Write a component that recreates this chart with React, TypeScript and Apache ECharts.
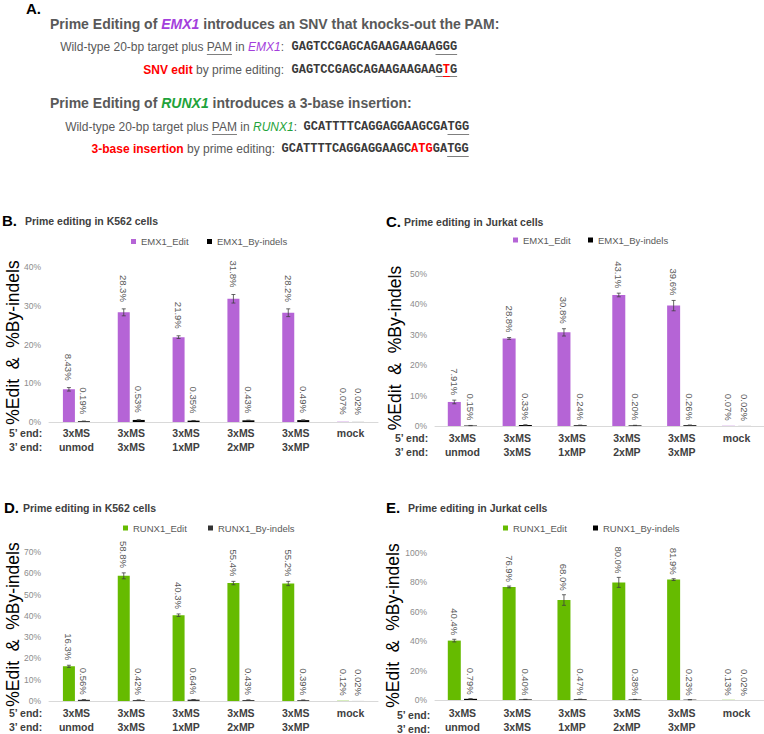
import React, { useEffect, useRef } from 'react';
import * as echarts from 'echarts';

// ---------- data ----------
const fivePrime = ['3xMS', '3xMS', '3xMS', '3xMS', '3xMS', 'mock'];
const threePrime = ['unmod', '3xMS', '1xMP', '2xMP', '3xMP', ''];

const emx1K562Edit = [8.43, 28.3, 21.9, 31.8, 28.2, 0.07];
const emx1K562EditErr = [0.45, 0.9, 0.35, 1.1, 1.0, 0];
const emx1K562Indel = [0.19, 0.53, 0.35, 0.43, 0.49, 0.02];
const emx1K562IndelErr = [0.04, 0.05, 0.04, 0.05, 0.06, 0];

const emx1JurkatEdit = [7.91, 28.8, 30.8, 43.1, 39.6, 0.07];
const emx1JurkatEditErr = [0.6, 0.3, 1.2, 0.6, 1.7, 0];
const emx1JurkatIndel = [0.15, 0.33, 0.24, 0.2, 0.26, 0.02];
const emx1JurkatIndelErr = [0.03, 0.05, 0.04, 0.03, 0.04, 0];

const runx1K562Edit = [16.3, 58.8, 40.3, 55.4, 55.2, 0.12];
const runx1K562EditErr = [0.5, 1.4, 0.6, 0.8, 1.0, 0];
const runx1K562Indel = [0.56, 0.42, 0.64, 0.43, 0.39, 0.02];
const runx1K562IndelErr = [0.05, 0.04, 0.05, 0.04, 0.04, 0];

const runx1JurkatEdit = [40.4, 76.9, 68.0, 80.0, 81.9, 0.13];
const runx1JurkatEditErr = [0.9, 0.6, 3.6, 3.4, 0.6, 0];
const runx1JurkatIndel = [0.79, 0.4, 0.47, 0.38, 0.23, 0.02];
const runx1JurkatIndelErr = [0.06, 0.04, 0.05, 0.04, 0.03, 0];

const yMaxB = 40, yStepB = 10;
const yMaxC = 50, yStepC = 10;
const yMaxD = 70, yStepD = 10;
const yMaxE = 100, yStepE = 20;

// ---------- styles ----------
const PURPLE = '#b564d6';
const GREEN = '#66bb00';
const TITLE_PURPLE = '#a43fdc';
const TITLE_GREEN = '#1fa33b';
const RED = '#ff0000';
const GRAY = '#595959';
const SEQ = '#3a3a3a';
const SANS = '"Liberation Sans", Arial, sans-serif';
const MONO = '"Liberation Mono", "Courier New", monospace';

const fmt = (v: number) => (v < 10 ? v.toFixed(2) : v.toFixed(1)) + '%';

interface Panel {
  letter: string;
  title: string;
  editName: string;
  indelName: string;
  edit: number[];
  editErr: number[];
  indel: number[];
  indelErr: number[];
  yMax: number;
  yStep: number;
  editColor: string;
  indelColor: string;
  // layout
  left: number;
  width: number;
  top: number;
  height: number;
  barW: number;
  letterX: number;
  titleX: number;
  titleY: number;
  legendY: number;
  legendX1: number;
  legendX2: number;
  yTitleX: number;
  rowX: number;
  labelMargin: number;
  labelGap: number;
}

const panels: Panel[] = [
  {
    letter: 'B.', title: 'Prime editing in K562 cells',
    editName: 'EMX1_Edit', indelName: 'EMX1_By-indels',
    edit: emx1K562Edit, editErr: emx1K562EditErr, indel: emx1K562Indel, indelErr: emx1K562IndelErr,
    yMax: yMaxB, yStep: yStepB, editColor: PURPLE, indelColor: '#000000',
    left: 49, width: 329, top: 267, height: 155, barW: 12,
    letterX: 2, titleX: 25, titleY: 220, legendY: 241.5, legendX1: 131, legendX2: 207,
    yTitleX: 13, rowX: 9, labelMargin: 4, labelGap: 7,
  },
  {
    letter: 'C.', title: 'Prime editing in Jurkat cells',
    editName: 'EMX1_Edit', indelName: 'EMX1_By-indels',
    edit: emx1JurkatEdit, editErr: emx1JurkatEditErr, indel: emx1JurkatIndel, indelErr: emx1JurkatIndelErr,
    yMax: yMaxC, yStep: yStepC, editColor: PURPLE, indelColor: '#000000',
    left: 435, width: 329, top: 274, height: 152, barW: 13,
    letterX: 386, titleX: 404, titleY: 221, legendY: 240, legendX1: 513, legendX2: 588,
    yTitleX: 395, rowX: 395, labelMargin: 5, labelGap: 5,
  },
  {
    letter: 'D.', title: 'Prime editing in K562 cells',
    editName: 'RUNX1_Edit', indelName: 'RUNX1_By-indels',
    edit: runx1K562Edit, editErr: runx1K562EditErr, indel: runx1K562Indel, indelErr: runx1K562IndelErr,
    yMax: yMaxD, yStep: yStepD, editColor: GREEN, indelColor: '#333333',
    left: 49, width: 329, top: 552, height: 149, barW: 12,
    letterX: 4, titleX: 23, titleY: 507, legendY: 528, legendX1: 123, legendX2: 208,
    yTitleX: 13, rowX: 9, labelMargin: 5, labelGap: 5,
  },
  {
    letter: 'E.', title: 'Prime editing in Jurkat cells',
    editName: 'RUNX1_Edit', indelName: 'RUNX1_By-indels',
    edit: runx1JurkatEdit, editErr: runx1JurkatEditErr, indel: runx1JurkatIndel, indelErr: runx1JurkatIndelErr,
    yMax: yMaxE, yStep: yStepE, editColor: GREEN, indelColor: '#000000',
    left: 435, width: 329, top: 553, height: 149, barW: 13,
    letterX: 386, titleX: 408, titleY: 507, legendY: 528, legendX1: 503, legendX2: 593,
    yTitleX: 393, rowX: 397, labelMargin: 6, labelGap: 4,
  },
];

// ---------- panel A text ----------
interface Seg { t: string; b?: boolean; i?: boolean; c?: string; u?: boolean; mono?: boolean; }
interface Line { y: number; size: number; segs: Seg[]; x?: number; endX?: number; seq?: Seg[]; seqX?: number; }

const seqFont = 12;
const aLines: Line[] = [
  {
    y: 24, size: 14, x: 50,
    segs: [
      { t: 'Prime Editing of ', b: true },
      { t: 'EMX1', b: true, i: true, c: TITLE_PURPLE },
      { t: ' introduces an SNV that knocks-out the PAM:', b: true },
    ],
  },
  {
    y: 47, size: 12, endX: 284,
    segs: [
      { t: 'Wild-type 20-bp target plus ' }, { t: 'PAM', u: true }, { t: ' in ' },
      { t: 'EMX1', i: true, c: TITLE_PURPLE }, { t: ':' },
    ],
    seqX: 291.5,
    seq: [{ t: 'GAGTCCGAGCAGAAGAAGAA' }, { t: 'GGG', u: true }],
  },
  {
    y: 69.5, size: 12, endX: 284,
    segs: [{ t: 'SNV edit', b: true, c: RED }, { t: ' by prime editing:' }],
    seqX: 291.5,
    seq: [{ t: 'GAGTCCGAGCAGAAGAAGAA' }, { t: 'G', u: true }, { t: 'T', u: true, c: RED }, { t: 'G', u: true }],
  },
  {
    y: 103, size: 14, x: 50,
    segs: [
      { t: 'Prime Editing of ', b: true },
      { t: 'RUNX1', b: true, i: true, c: TITLE_GREEN },
      { t: ' introduces a 3-base insertion:', b: true },
    ],
  },
  {
    y: 127, size: 12, endX: 297,
    segs: [
      { t: 'Wild-type 20-bp target plus ' }, { t: 'PAM', u: true }, { t: ' in ' },
      { t: 'RUNX1', i: true, c: TITLE_GREEN }, { t: ':' },
    ],
    seqX: 303.5,
    seq: [{ t: 'GCATTTTCAGGAGGAAGCGA' }, { t: 'TGG', u: true }],
  },
  {
    y: 149, size: 12, endX: 275,
    segs: [{ t: '3-base insertion', b: true, c: RED }, { t: ' by prime editing:' }],
    seqX: 281.5,
    seq: [{ t: 'GCATTTTCAGGAGGAAGC' }, { t: 'ATG', c: RED }, { t: 'GA' }, { t: 'TGG', u: true }],
  },
];

function fontOf(s: Seg, size: number) {
  return `${s.i ? 'italic ' : ''}${s.b ? 'bold ' : ''}${size}px ${s.mono ? MONO : SANS}`;
}

function buildPanelA(): any[] {
  const ctx = document.createElement('canvas').getContext('2d') as CanvasRenderingContext2D;
  const out: any[] = [];
  const place = (segs: Seg[], size: number, startX: number, y: number, defColor: string) => {
    let x = startX;
    segs.forEach((s) => {
      const font = fontOf(s, size);
      ctx.font = font;
      const w = ctx.measureText(s.t).width;
      const fill = s.c || defColor;
      out.push({
        type: 'text', x, y,
        style: { text: s.t, font, fill, align: 'left', verticalAlign: 'middle', textAlign: 'left', textVerticalAlign: 'middle' },
      });
      if (s.u) {
        const uy = Math.round(y + size * 0.55) + 0.5;
        out.push({ type: 'line', shape: { x1: x, y1: uy, x2: x + w, y2: uy }, style: { stroke: s.c || '#7f7f7f', lineWidth: 1 } });
      }
      x += w;
    });
  };
  const widthOf = (segs: Seg[], size: number) =>
    segs.reduce((acc, s) => { ctx.font = fontOf(s, size); return acc + ctx.measureText(s.t).width; }, 0);

  out.push({
    type: 'text', x: 26, y: 8,
    style: { text: 'A.', font: `bold 15px ${SANS}`, fill: '#000', align: 'left', verticalAlign: 'middle', textAlign: 'left', textVerticalAlign: 'middle' },
  });
  aLines.forEach((ln) => {
    const startX = ln.x !== undefined ? ln.x : (ln.endX as number) - widthOf(ln.segs, ln.size);
    place(ln.segs, ln.size, startX, ln.y, GRAY);
    if (ln.seq) {
      place(ln.seq.map((s) => ({ ...s, b: true, mono: true })), seqFont, ln.seqX as number, ln.y, SEQ);
    }
  });
  return out;
}

function buildOption() {
  const grid: any[] = [];
  const xAxis: any[] = [];
  const yAxis: any[] = [];
  const series: any[] = [];
  const legend: any[] = [];
  const graphic: any[] = buildPanelA();
  const categories = fivePrime.map((f, i) => `${f}\n${threePrime[i]}`);

  panels.forEach((p, k) => {
    grid.push({ left: p.left, top: p.top, width: p.width, height: p.height, containLabel: false });
    xAxis.push({
      type: 'category', gridIndex: k, data: categories,
      axisLine: { lineStyle: { color: '#d9d9d9', width: 1 } },
      axisTick: { show: false },
      axisLabel: {
        interval: 0, fontSize: 10.5, fontWeight: 'bold', color: '#404040', fontFamily: SANS,
        lineHeight: 14, margin: p.labelMargin,
      },
    });
    yAxis.push({
      type: 'value', gridIndex: k, min: 0, max: p.yMax, interval: p.yStep,
      axisLine: { show: false }, axisTick: { show: false }, splitLine: { show: false },
      axisLabel: { formatter: '{value}%', fontSize: 8.5, color: '#8c8c8c', fontFamily: SANS, margin: 8 },
    });
    const pxPer = p.height / p.yMax;
    const gapPx = p.barW * 0.25;
    const off = (p.barW + gapPx) / 2;
    const labelCfg = {
      show: true, position: 'top', rotate: -90, align: 'right', verticalAlign: 'middle',
      fontSize: 9.5, color: '#595959', fontFamily: SANS,
      formatter: (q: any) => fmt(q.value),
    };
    series.push({
      type: 'bar', name: p.editName, xAxisIndex: k, yAxisIndex: k,
      barWidth: p.barW, barGap: '25%',
      itemStyle: { color: p.editColor },
      label: labelCfg,
      data: p.edit.map((v, i) => ({ value: v, label: { distance: p.labelGap + p.editErr[i] * pxPer } })),
    });
    series.push({
      type: 'bar', name: p.indelName, xAxisIndex: k, yAxisIndex: k,
      barWidth: p.barW, barGap: '25%',
      itemStyle: { color: p.indelColor },
      label: labelCfg,
      data: p.indel.map((v, i) => ({ value: v, label: { distance: p.labelGap + p.indelErr[i] * pxPer } })),
    });
    const errData: number[][] = [];
    p.edit.forEach((v, i) => { if (p.editErr[i] > 0) errData.push([i, v - p.editErr[i], v + p.editErr[i], -1]); });
    p.indel.forEach((v, i) => { if (p.indelErr[i] > 0) errData.push([i, Math.max(0, v - p.indelErr[i]), v + p.indelErr[i], 1]); });
    series.push({
      type: 'custom', name: 'err' + k, xAxisIndex: k, yAxisIndex: k, z: 5,
      encode: { x: 0, y: [1, 2] },
      data: errData,
      renderItem: (params: any, api: any) => {
        const cat = api.value(0);
        const lo = api.coord([cat, api.value(1)]);
        const hi = api.coord([cat, api.value(2)]);
        const x = lo[0] + api.value(3) * off;
        const st = { stroke: '#404040', lineWidth: 0.8 };
        return {
          type: 'group',
          children: [
            { type: 'line', shape: { x1: x, y1: lo[1], x2: x, y2: hi[1] }, style: st },
            { type: 'line', shape: { x1: x - 2, y1: hi[1], x2: x + 2, y2: hi[1] }, style: st },
            { type: 'line', shape: { x1: x - 2, y1: lo[1], x2: x + 2, y2: lo[1] }, style: st },
          ],
        };
      },
    });

    const legText = { fontSize: 9.5, color: '#595959', fontFamily: SANS, lineHeight: 10 };
    legend.push({
      left: p.legendX1, top: p.legendY - 5, padding: 0, icon: 'rect', itemWidth: 5, itemHeight: 5,
      selectedMode: false, textStyle: legText,
      data: [{ name: p.editName, itemStyle: { color: p.editColor } }],
    });
    legend.push({
      left: p.legendX2, top: p.legendY - 5, padding: 0, icon: 'rect', itemWidth: 5, itemHeight: 5,
      selectedMode: false, textStyle: legText,
      data: [{ name: p.indelName, itemStyle: { color: p.indelColor } }],
    });

    const txt = (text: string, x: number, y: number, font: string, fill: string) => ({
      type: 'text', x, y,
      style: { text, font, fill, align: 'left', verticalAlign: 'middle', textAlign: 'left', textVerticalAlign: 'middle' },
    });
    graphic.push(txt(p.letter, p.letterX, p.titleY, `bold 15px ${SANS}`, '#000'));
    graphic.push(txt(p.title, p.titleX, p.titleY + 0.5, `bold 10.5px ${SANS}`, '#404040'));
    const axisY = p.top + p.height;
    graphic.push(txt('5\u2019 end:', p.rowX, axisY + p.labelMargin + 7, `bold 10.5px ${SANS}`, '#404040'));
    graphic.push(txt('3\u2019 end:', p.rowX, axisY + p.labelMargin + 21, `bold 10.5px ${SANS}`, '#404040'));
    graphic.push({
      type: 'text', x: p.yTitleX, y: p.top + p.height / 2 - 2, rotation: Math.PI / 2,
      style: {
        text: '%Edit  &  %By-indels', font: `17.5px ${SANS}`, fill: '#000',
        align: 'center', verticalAlign: 'middle', textAlign: 'center', textVerticalAlign: 'middle',
      },
    });
  });

  return {
    animation: false,
    backgroundColor: '#ffffff',
    grid, xAxis, yAxis, series, legend, graphic,
  };
}

export default function App() {
  const ref = useRef<HTMLDivElement>(null);
  useEffect(() => {
    document.body.style.margin = '0';
    if (!ref.current) return;
    const chart = echarts.init(ref.current, undefined, { renderer: 'svg' });
    chart.setOption(buildOption() as any);
    return () => chart.dispose();
  }, []);
  return <div ref={ref} style={{ width: 764, height: 734 }} />;
}
